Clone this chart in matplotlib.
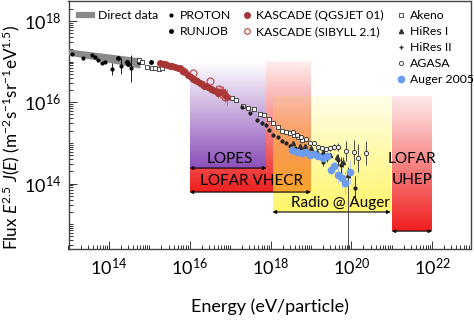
import matplotlib
matplotlib.use("Agg")
import matplotlib.pyplot as plt
import numpy as np
from matplotlib.colors import LinearSegmentedColormap
from matplotlib.lines import Line2D
from matplotlib.ticker import FixedLocator, FuncFormatter, NullFormatter

plt.rcParams['font.family'] = ['Lato', 'DejaVu Sans']
plt.rcParams['mathtext.fontset'] = 'custom'
plt.rcParams['mathtext.rm'] = 'Lato'
plt.rcParams['mathtext.it'] = 'Lato:italic'
plt.rcParams['mathtext.bf'] = 'Lato:bold'

# ---- data : log10(E / eV), log10(E^2.5 J(E)) ----
direct_logE = [13.0, 14.77]
direct_hi = [17.31, 17.09]
direct_lo = [17.16, 16.84]

proton_logE = [13.08, 13.37, 13.57, 13.66, 13.74, 13.82, 13.90, 14.07, 14.29, 14.55]
proton_logF = [17.18, 17.08, 17.16, 17.12, 17.04, 16.97, 16.99, 16.81, 16.89, 16.83]
proton_err = [0.02, 0.03, 0.02, 0.02, 0.02, 0.03, 0.03, 0.15, 0.2, 0.34]

runjob_logE = [14.23, 14.44, 14.48, 14.75, 15.04]
runjob_logF = [17.08, 16.99, 16.94, 16.99, 16.99]
runjob_err = [0.03, 0.04, 0.05, 0.05, 0.04]

qgsjet_logE = [15.26, 15.33, 15.39, 15.45, 15.51, 15.57, 15.64, 15.70, 15.76, 15.82, 15.88,
               15.95, 16.02, 16.08, 16.13, 16.19, 16.25, 16.30, 16.35, 16.40, 16.45, 16.52,
               16.58, 16.64, 16.70, 16.76, 16.82, 16.87, 16.92]
qgsjet_logF = [16.96, 16.94, 16.93, 16.91, 16.89, 16.88, 16.87, 16.85, 16.83, 16.79, 16.75,
               16.68, 16.61, 16.58, 16.55, 16.51, 16.47, 16.44, 16.40, 16.39, 16.37, 16.33,
               16.30, 16.27, 16.23, 16.25, 16.26, 16.18, 16.13]
qgsjet_err = [0.03] * 10 + [0.04] * 6 + [0.06] * 6 + [0.1, 0.12, 0.12, 0.15, 0.15, 0.18, 0.2]

sibyll_logE = [15.83, 16.07, 16.50, 16.72, 16.87]
sibyll_logF = [16.77, 16.71, 16.53, 16.32, 16.12]

akeno_logE = [14.75, 14.82, 14.94, 15.07, 15.14, 15.23, 15.31,
              17.05, 17.15, 17.32, 17.44, 17.59, 17.74, 17.84, 17.96, 18.06, 18.19,
              18.28, 18.38, 18.48, 18.58, 18.68, 18.78]
akeno_logF = [17.04, 16.99, 16.86, 16.84, 16.84, 16.82, 16.84,
              16.10, 16.05, 15.91, 15.86, 15.83, 15.71, 15.69, 15.59, 15.49, 15.39,
              15.29, 15.27, 15.24, 15.19, 15.14, 15.07]

hires1_logE = [18.56, 18.73, 18.85, 19.00, 19.15, 19.30, 19.47, 19.65, 19.79, 19.92]
hires1_logF = [15.00, 14.92, 14.92, 14.87, 14.78, 14.78, 14.70, 14.65, 14.53, 14.21]
hires1_elo = [0.02, 0.02, 0.03, 0.03, 0.04, 0.05, 0.06, 0.08, 0.12, 2.5]
hires1_ehi = [0.02, 0.02, 0.03, 0.03, 0.04, 0.05, 0.06, 0.08, 0.12, 0.2]

hires2_logE = [17.29, 17.49, 17.67, 17.79, 17.89, 17.96, 18.06, 18.19, 18.28, 18.38, 18.48,
               18.61, 18.75, 18.90, 19.05, 19.15, 19.30, 19.40, 19.67, 19.75, 20.10]
hires2_logF = [15.88, 15.73, 15.56, 15.49, 15.44, 15.32, 15.19, 15.14, 15.05, 15.00, 14.92,
               14.87, 14.83, 14.80, 14.75, 14.68, 14.53, 14.63, 14.58, 14.45, 13.88]
hires2_err = [0.04] * 13 + [0.05, 0.06, 0.07, 0.1, 0.1, 0.15, 0.2, 0.3]

agasa_logE = [18.56, 18.66, 18.76, 18.88, 18.98, 19.08, 19.18, 19.27, 19.37, 19.47, 19.57,
              19.67, 19.87, 20.07, 20.17, 20.36]
agasa_logF = [15.26, 15.20, 15.15, 15.10, 15.00, 15.00, 14.90, 14.87, 14.85, 14.87, 14.90,
              14.90, 14.80, 14.78, 14.63, 14.75]
agasa_err = [0.02, 0.02, 0.02, 0.03, 0.03, 0.03, 0.04, 0.04, 0.05, 0.06, 0.08,
             0.1, 0.25, 0.3, 0.35, 0.3]

auger_logE = [18.53, 18.66, 18.78, 18.88, 18.98, 19.08, 19.18, 19.30, 19.40, 19.50, 19.57,
              19.67, 19.77, 19.85, 19.97]
auger_logF = [14.83, 14.78, 14.75, 14.78, 14.70, 14.73, 14.68, 14.63, 14.68, 14.33, 14.43,
              14.21, 14.13, 14.01, 14.28]
auger_err = [0.03, 0.03, 0.03, 0.03, 0.03, 0.04, 0.05, 0.06, 0.08, 0.12, 0.12,
             0.2, 0.25, 0.3, 0.3]

# radio experiments: name, logE range, logF range
regions = {
    'LOFAR VHECR': ([16.0, 19.0], [13.79, 17.02]),
    'LOPES': ([16.0, 17.9], [14.38, 17.02]),
    'Radio @ Auger': ([18.05, 20.97], [13.30, 16.15]),
    'LOFAR UHEP': ([21.0, 22.0], [12.83, 16.15]),
}

x_labelled = [14, 16, 18, 20, 22]
y_labelled = [14, 16, 18]


def lin(v):
    return 10.0 ** np.asarray(v)


def yerr(logF, elo, ehi=None):
    logF = np.asarray(logF)
    ehi = elo if ehi is None else ehi
    F = lin(logF)
    return [F - lin(logF - np.asarray(elo)), lin(logF + np.asarray(ehi)) - F]


fig = plt.figure(figsize=(4.74, 3.21), dpi=100)
ax = fig.add_axes([68.5 / 474, 1 - 249 / 321, 402 / 474, 248.5 / 321])
ax.set_xscale('log')
ax.set_yscale('log')
ax.set_xlim(1e13, 10 ** 22.95)
ax.set_ylim(10 ** 12.39, 10 ** 18.5)

############################
## radio experiment boxes ##
############################


def gradient(name, color, opaque=True, a_top=0.0, a_bot=1.0, z=1):
    (x0, x1), (y0, y1) = regions[name]
    ye = np.logspace(y0, y1, 120)
    t = np.linspace(1, 0, 119).reshape(-1, 1)
    if opaque:
        cm = LinearSegmentedColormap.from_list(name, ['white', color])
        c = a_top + (a_bot - a_top) * t
    else:
        rgb = matplotlib.colors.to_rgb(color)
        cm = LinearSegmentedColormap.from_list(name, [rgb + (a_top,), rgb + (a_bot,)])
        c = t
    ax.pcolormesh(lin([x0, x1]), ye, c, cmap=cm, vmin=0, vmax=1,
                  shading='flat', antialiased=False, edgecolors='none', zorder=z)


gradient('LOFAR VHECR', '#ef2020', a_top=0.08, z=1)
gradient('LOPES', '#8a4fb8', a_top=0.0, z=1.2)
gradient('Radio @ Auger', '#fff23a', opaque=False, a_top=0.12, a_bot=0.75, z=1.4)
gradient('LOFAR UHEP', '#f02020', a_top=0.1, z=1)

arrow_kw = dict(arrowstyle='<|-|>', mutation_scale=5, lw=0.8, color='black',
                shrinkA=0, shrinkB=0)
for name, ((x0, x1), (y0, y1)) in regions.items():
    ax.annotate('', xy=(lin(x1), lin(y0)), xytext=(lin(x0), lin(y0)),
                arrowprops=arrow_kw, zorder=2)

box_font = 11
ax.text(lin(17.0), lin(14.60), 'LOPES', ha='center', va='center', fontsize=box_font, zorder=3)
ax.text(lin(17.52), lin(14.05), 'LOFAR VHECR', ha='center', va='center', fontsize=box_font, zorder=3)
ax.text(lin(19.72), lin(13.53), 'Radio @ Auger', ha='center', va='center', fontsize=box_font, zorder=3)
ax.text(lin(21.5), lin(14.60), 'LOFAR', ha='center', va='center', fontsize=box_font, zorder=3)
ax.text(lin(21.5), lin(14.08), 'UHEP', ha='center', va='center', fontsize=box_font, zorder=3)

##################
## cosmic rays  ##
##################

ax.fill_between(lin(direct_logE), lin(direct_lo), lin(direct_hi), color='#8a8a8a',
                lw=0, zorder=4)

eb = dict(ls='none', elinewidth=0.6, capsize=0, zorder=5)
ax.errorbar(lin(proton_logE), lin(proton_logF), yerr=yerr(proton_logF, proton_err),
            marker='o', ms=2, color='black', **eb)
ax.errorbar(lin(runjob_logE), lin(runjob_logF), yerr=yerr(runjob_logF, runjob_err),
            marker='o', ms=2.5, color='black', **eb)
ax.errorbar(lin(akeno_logE), lin(akeno_logF), marker='s', ms=3, mfc='white',
            mec='#333333', mew=0.6, color='#333333', **eb)
ax.errorbar(lin(qgsjet_logE), lin(qgsjet_logF), yerr=yerr(qgsjet_logF, qgsjet_err),
            marker='o', ms=4, color='#a83535', ecolor='#d05050', **eb)
ax.errorbar(lin(sibyll_logE), lin(sibyll_logF), marker='o', ms=5, mfc='none',
            mec='#b84040', mew=0.8, **eb)
ax.errorbar(lin(hires2_logE), lin(hires2_logF), yerr=yerr(hires2_logF, hires2_err),
            marker='o', ms=2, color='#222222', **eb)
ax.errorbar(lin(hires1_logE), lin(hires1_logF),
            yerr=yerr(hires1_logF, hires1_elo, hires1_ehi),
            marker='^', ms=3, color='#333333', **eb)
ax.errorbar(lin(agasa_logE), lin(agasa_logF), yerr=yerr(agasa_logF, agasa_err),
            marker='o', ms=3, mfc='white', mec='#222222', mew=0.6, color='#333333', **eb)
ax.errorbar(lin(auger_logE), lin(auger_logF), yerr=yerr(auger_logF, auger_err),
            marker='o', ms=4.5, color='#6b9cf0', ecolor='#a9c5f5', **eb)

############
## legend ##
############

leg_kw = dict(frameon=False, loc='upper left', borderpad=0, borderaxespad=0,
              handletextpad=0.45, fontsize=8.8, labelspacing=0.41)
h1 = [Line2D([], [], color='#8a8a8a', lw=4.5)]
l1 = ax.legend(h1, ['Direct data'], bbox_to_anchor=(0.027, 0.961),
               handlelength=1.05, **leg_kw)
ax.add_artist(l1)
h2 = [Line2D([], [], ls='none', marker='o', ms=2, color='black'),
      Line2D([], [], ls='none', marker='o', ms=2.5, color='black')]
l2 = ax.legend(h2, ['PROTON', 'RUNJOB'], bbox_to_anchor=(0.245, 0.961),
               handlelength=0.6, **leg_kw)
ax.add_artist(l2)
h3 = [Line2D([], [], ls='none', marker='o', ms=4, color='#a83535'),
      Line2D([], [], ls='none', marker='o', ms=4, mfc='none', mec='#b84040', mew=0.8)]
l3 = ax.legend(h3, ['KASCADE (QGSJET 01)', 'KASCADE (SIBYLL 2.1)'],
               bbox_to_anchor=(0.435, 0.961), handlelength=0.6, **leg_kw)
ax.add_artist(l3)
h4 = [Line2D([], [], ls='none', marker='s', ms=3, mfc='white', mec='#333333', mew=0.6),
      Line2D([], [], ls='none', marker='^', ms=3, color='#333333'),
      Line2D([], [], ls='none', marker='+', ms=3, color='#333333'),
      Line2D([], [], ls='none', marker='o', ms=3, mfc='white', mec='#333333', mew=0.6),
      Line2D([], [], ls='none', marker='o', ms=4.5, color='#6b9cf0')]
ax.legend(h4, ['Akeno', 'HiRes I', 'HiRes II', 'AGASA', 'Auger 2005'],
          bbox_to_anchor=(0.817, 0.961), handlelength=0.6, **leg_kw)

##########
## axes ##
##########

fmt = FuncFormatter(lambda v, p: '10$^{%d}$' % round(np.log10(v)))
minor_x = [k * 10.0 ** d for d in range(13, 23) for k in range(1, 10)
           if 13 <= np.log10(k) + d <= 22.95 and not (k == 1 and d % 2 == 0)]
minor_y = [k * 10.0 ** d for d in range(12, 19) for k in range(1, 10)
           if 12.39 <= np.log10(k) + d <= 18.5 and not (k == 1 and d % 2 == 0)]
ax.xaxis.set_major_locator(FixedLocator(lin(x_labelled)))
ax.yaxis.set_major_locator(FixedLocator(lin(y_labelled)))
ax.xaxis.set_minor_locator(FixedLocator(minor_x))
ax.yaxis.set_minor_locator(FixedLocator(minor_y))
for axis in (ax.xaxis, ax.yaxis):
    axis.set_major_formatter(fmt)
    axis.set_minor_formatter(NullFormatter())
ax.tick_params(which='both', direction='in', labelsize=13, width=0.7, color='#333333')
ax.tick_params(which='major', length=6)
ax.tick_params(which='minor', length=3)
ax.tick_params(axis='x', pad=6)
ax.tick_params(axis='y', pad=5)
for s in ax.spines.values():
    s.set_linewidth(1.0)
    s.set_color('#444444')

ax.set_xlabel('Energy (eV/particle)', fontsize=13)
ax.xaxis.set_label_coords(0.5, -0.2)
ax.set_ylabel(r'Flux $E^{2.5}$ $J(E)$ (m$^{-2}$s$^{-1}$sr$^{-1}$eV$^{1.5}$)', fontsize=12.3)
ax.yaxis.set_label_coords(-0.115, 0.45)

fig.savefig('out.png', dpi=100)
